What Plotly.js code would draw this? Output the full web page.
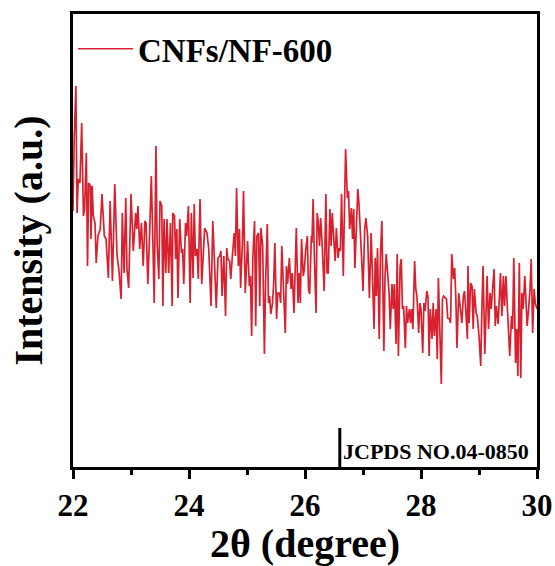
<!DOCTYPE html>
<html>
<head>
<meta charset="utf-8">
<script src="https://cdn.plot.ly/plotly-3.0.1.min.js"></script>
<style>html,body{margin:0;padding:0;background:#fff;}#chart{width:555px;height:566px;}</style>
</head>
<body>
<div id="chart"></div>
<script>
// 2θ (degree) values
const twoTheta = [
22.00,22.02,22.05,22.07,22.09,22.12,22.15,22.18,22.20,22.23,22.25,22.27,22.30,22.31,22.33,22.35,22.38,22.40,22.43,22.47,
22.50,22.54,22.57,22.61,22.64,22.68,22.72,22.76,22.79,22.83,22.85,22.88,22.91,22.93,22.96,23.00,23.04,23.08,23.10,23.12,
23.15,23.18,23.21,23.24,23.26,23.29,23.32,23.35,23.38,23.40,23.43,23.45,23.48,23.50,23.53,23.55,23.57,23.60,23.62,23.65,
23.68,23.71,23.72,23.75,23.77,23.79,23.81,23.84,23.87,23.89,23.91,23.94,23.96,23.99,24.02,24.04,24.07,24.09,24.11,24.14,
24.16,24.19,24.22,24.25,24.27,24.31,24.34,24.38,24.41,24.44,24.47,24.50,24.53,24.55,24.57,24.60,24.63,24.65,24.67,24.70,
24.72,24.75,24.78,24.80,24.82,24.85,24.87,24.89,24.92,24.94,24.97,24.99,25.01,25.04,25.06,25.08,25.10,25.13,25.15,25.17,
25.20,25.22,25.24,25.27,25.30,25.32,25.35,25.37,25.39,25.41,25.44,25.46,25.48,25.51,25.53,25.56,25.58,25.60,25.63,25.66,
25.68,25.70,25.73,25.76,25.78,25.81,25.85,25.88,25.90,25.92,25.94,25.97,25.99,26.01,26.04,26.06,26.08,26.11,26.12,26.14,
26.16,26.19,26.21,26.23,26.25,26.27,26.30,26.33,26.36,26.38,26.40,26.43,26.45,26.47,26.50,26.52,26.54,26.57,26.59,26.61,
26.63,26.66,26.68,26.70,26.73,26.75,26.77,26.80,26.82,26.84,26.86,26.89,26.91,26.93,26.96,26.98,27.00,27.03,27.05,27.08,
27.11,27.14,27.16,27.19,27.21,27.23,27.25,27.28,27.30,27.325,27.36,27.38,27.40,27.43,27.45,27.47,27.50,27.52,27.54,27.57,
27.59,27.61,27.64,27.66,27.68,27.70,27.73,27.75,27.77,27.80,27.82,27.84,27.86,27.89,27.91,27.93,27.96,27.98,28.00,28.03,
28.05,28.07,28.10,28.12,28.14,28.16,28.19,28.21,28.23,28.26,28.28,28.30,28.33,28.35,28.37,28.39,28.42,28.44,28.46,28.49,
28.51,28.53,28.56,28.58,28.60,28.62,28.65,28.67,28.705,28.73,28.75,28.77,28.80,28.81,28.83,28.855,28.88,28.90,28.92,28.95,
28.97,29.00,29.03,29.05,29.07,29.10,29.12,29.14,29.165,29.19,29.21,29.235,29.26,29.28,29.30,29.33,29.35,29.37,29.395,29.42,
29.44,29.465,29.49,29.51,29.53,29.56,29.58,29.60,29.63,29.65,29.67,29.695,29.72,29.74,29.76,29.79,29.81,29.83,29.855,29.88,
29.90,29.925,29.95,29.97,30.00
];
// Intensity (a.u.)
const intensity = [
256,326,381,254,288,284,344,251,258,314,201,284,281,228,281,251,244,204,231,238,
273,231,228,189,266,186,283,211,198,168,254,194,269,198,179,273,216,254,238,261,
218,244,201,246,244,183,231,291,218,164,321,224,188,266,261,161,248,194,248,194,
244,161,254,251,208,238,169,248,214,218,183,244,231,261,164,254,189,263,211,218,
188,268,183,218,239,234,218,161,246,204,159,209,211,216,171,211,151,219,208,206,
188,213,234,211,279,201,238,179,223,276,174,199,226,181,191,131,208,246,141,231,
234,161,239,221,113,184,243,164,171,153,164,184,224,148,174,174,164,221,181,134,
201,183,209,178,194,154,239,164,194,164,228,191,198,216,231,178,173,231,224,268,
214,154,254,244,221,249,218,176,273,194,194,258,221,254,224,206,239,209,219,216,
273,191,258,318,269,276,238,259,228,258,199,244,278,264,234,204,176,238,249,231,
169,234,198,138,209,171,219,128,211,246,116,191,213,184,174,138,183,158,183,123,
213,111,201,208,158,161,119,161,144,158,144,158,138,206,178,171,134,164,158,114,
164,156,176,171,111,158,128,164,131,158,108,189,128,83,168,171,169,168,149,148,
144,213,188,199,171,119,174,161,144,171,176,158,128,201,144,184,181,138,178,154,
151,131,101,158,201,113,164,191,138,174,158,184,198,141,161,143,171,194,151,191,
161,191,158,138,111,151,138,209,104,138,91,204,89,174,158,191,158,141,158,178,
208,134,178,164,158
];
// JCPDS NO.04-0850 reference line
const refPos = [26.6, 26.6];
const refHeight = [0, 39];
const seriesName = 'CNFs/NF-600';
const refLabel = 'JCPDS NO.04-0850';
const xTicks = [22, 24, 26, 28, 30];

const font = 'Liberation Serif, Times New Roman, serif';

const traces = [
  {x: twoTheta, y: intensity, type: 'scatter', mode: 'lines', name: seriesName,
   line: {color: '#d9202e', width: 1.7}},
  {x: refPos, y: refHeight, type: 'scatter', mode: 'lines', showlegend: false,
   line: {color: '#000', width: 3}, hoverinfo: 'skip'}
];

const layout = {
  width: 555, height: 566,
  margin: {l: 73, r: 18, t: 14, b: 99},
  paper_bgcolor: '#fff', plot_bgcolor: '#fff',
  font: {family: font, color: '#000'},
  showlegend: true,
  legend: {x: 0.0, y: 0.985, xanchor: 'left', yanchor: 'top', bgcolor: 'rgba(0,0,0,0)',
    itemwidth: 55,
    font: {family: font, size: 33, color: '#000', weight: 'bold'}},
  xaxis: {
    range: [22, 30], tickvals: xTicks, ticktext: xTicks.map(String),
    showline: true, linewidth: 3, linecolor: '#000', mirror: true,
    ticks: 'outside', ticklen: 9, tickwidth: 3, tickcolor: '#000',
    minor: {dtick: 1, tick0: 22, ticks: 'outside', ticklen: 5, tickwidth: 3, tickcolor: '#000'},
    showgrid: false, zeroline: false,
    tickfont: {family: font, size: 31, color: '#000', weight: 'bold'},
    title: {text: '\u00a0\u00a02θ (degree)', font: {family: font, size: 40, color: '#000', weight: 'bold'}, standoff: 2}
  },
  yaxis: {
    range: [0, 453],
    showline: true, linewidth: 3, linecolor: '#000', mirror: true,
    ticks: '', showticklabels: false, showgrid: false, zeroline: false,
    title: {text: 'Intensity (a.u.)', font: {family: font, size: 40, color: '#000', weight: 'bold'}, standoff: 16}
  },
  annotations: [
    {x: refPos[0], y: 16, xref: 'x', yref: 'y', xanchor: 'left', yanchor: 'middle', xshift: 1,
     text: refLabel, showarrow: false, font: {family: font, size: 22, color: '#000', weight: 'bold'}}
  ]
};

Plotly.newPlot('chart', traces, layout, {displayModeBar: false, staticPlot: true});
</script>
</body>
</html>
